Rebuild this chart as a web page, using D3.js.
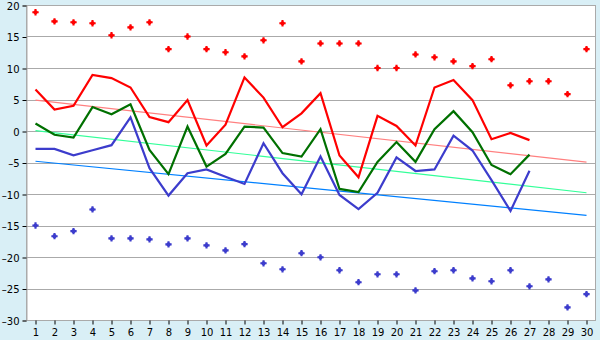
<!DOCTYPE html>
<html>
<head>
<meta charset="utf-8">
<script src="https://cdn.jsdelivr.net/npm/d3@7/dist/d3.min.js"></script>
<style>
  html, body { margin: 0; padding: 0; background: #d9eff6; }
  svg { display: block; }
  text { font-family: "DejaVu Sans", Verdana, sans-serif; font-size: 10px; fill: #000; }
</style>
</head>
<body>
<svg id="chart" width="600" height="340"></svg>
<script>
// Day index along the x axis
const categories = [1,2,3,4,5,6,7,8,9,10,11,12,13,14,15,16,17,18,19,20,21,22,23,24,25,26,27,28,29,30];

// Daily series (days 1–27)
const redSeries = [6.6, 3.4, 4.0, 8.9, 8.4, 6.9, 2.2, 1.4, 4.9, -2.3, 1.0, 8.5, 5.3, 0.6, 2.8, 6.0, -3.9, -7.35, 2.4, 0.8, -2.3, 6.9, 8.1, 4.9, -1.3, -0.3, -1.45];
const greenSeries = [1.2, -0.6, -1.05, 3.8, 2.65, 4.25, -3.0, -6.85, 0.7, -5.65, -3.65, 0.7, 0.55, -3.5, -4.05, 0.3, -9.2, -9.7, -4.9, -1.75, -4.9, 0.3, 3.15, -0.2, -5.4, -6.85, -3.75];
const blueSeries = [-2.85, -2.85, -3.85, -3.05, -2.25, 2.15, -5.9, -10.25, -6.7, -6.1, -7.25, -8.4, -1.95, -6.7, -10.05, -4.05, -10.15, -12.4, -9.8, -4.2, -6.35, -6.1, -0.75, -3.1, -7.8, -12.7, -6.3];

// Extremes (days 1–30)
const redPoints = [18.85, 17.4, 17.25, 17.1, 15.2, 16.45, 17.25, 13.0, 15.0, 13.0, 12.5, 11.85, 14.4, 17.1, 11.05, 13.9, 13.9, 13.9, 10.0, 10.0, 12.15, 11.7, 11.05, 10.3, 11.4, 7.25, 7.9, 7.9, 5.85, 13.0];
const bluePoints = [-15.0, -16.7, -15.9, -12.45, -17.05, -17.05, -17.2, -18.0, -17.05, -18.15, -18.95, -17.95, -21.0, -21.95, -19.4, -20.05, -22.1, -24.0, -22.75, -22.75, -25.3, -22.25, -22.1, -23.4, -23.85, -22.1, -24.65, -23.55, -28.0, -25.9];

// Trend lines, value at first and last day
const trendDays = [1, 30];
const redTrend = [4.9, -4.95];
const greenTrend = [0.05, -9.8];
const blueTrend = [-4.8, -13.4];

// Y axis ticks
const yTicks = [-30, -25, -20, -15, -10, -5, 0, 5, 10, 15, 20];

const svg = d3.select("#chart");
const plotLeft = 26, plotRight = 596, plotTop = 5, plotBottom = 320;

const x = d3.scaleBand().domain(categories).range([plotLeft, plotRight]).padding(0);
const cx = d => x(d) + x.bandwidth() / 2;
const y = d3.scaleLinear().domain([-30, 20]).range([plotBottom, plotTop]);

// Plot background
svg.append("rect")
  .attr("x", plotLeft).attr("y", plotTop)
  .attr("width", plotRight - plotLeft).attr("height", plotBottom - plotTop)
  .attr("fill", "#ffffff");

// Horizontal gridlines
svg.append("g")
  .selectAll("line")
  .data(yTicks)
  .join("line")
  .attr("x1", plotLeft).attr("x2", plotRight)
  .attr("y1", d => Math.round(y(d)) + 0.5).attr("y2", d => Math.round(y(d)) + 0.5)
  .attr("stroke", "#aaaaaa").attr("stroke-width", 1);

// Plot frame
svg.append("rect")
  .attr("x", plotLeft + 0.5).attr("y", plotTop + 0.5)
  .attr("width", plotRight - plotLeft - 1).attr("height", plotBottom - plotTop)
  .attr("fill", "none").attr("stroke", "#aaaaaa");

// Y axis
const yAxis = d3.axisLeft(y).tickValues(yTicks).tickSize(4).tickPadding(3)
  .tickFormat(d => d < 0 ? "\u2013" + Math.abs(d) : String(d));
const gy = svg.append("g").attr("transform", `translate(${plotLeft + 0.5},0.5)`).call(yAxis);
gy.select(".domain").attr("stroke", "#aaaaaa");
gy.selectAll(".tick line").attr("stroke", "#000");
gy.selectAll("text").attr("dy", "0.36em").style("font-size", "10px");

// X axis
const xAxis = d3.axisBottom(x).tickSize(4).tickPadding(4);
const gx = svg.append("g").attr("transform", `translate(0.5,${plotBottom + 0.5})`).call(xAxis);
gx.select(".domain").remove();
gx.selectAll(".tick line").attr("stroke", "#000");
gx.selectAll("text").style("font-size", "10px");

// Trend lines
const trendLine = d3.line().x((d, i) => cx(trendDays[i])).y(d => y(d));
[[redTrend, "#ff8080"], [greenTrend, "#33ff99"], [blueTrend, "#0080ff"]].forEach(([vals, color]) => {
  svg.append("path")
    .attr("d", trendLine(vals))
    .attr("fill", "none")
    .attr("stroke", color)
    .attr("stroke-width", 1.2);
});

// Series lines
const seriesLine = d3.line().x((d, i) => cx(categories[i])).y(d => y(d));
[[greenSeries, "#007000"], [blueSeries, "#3c3ccc"], [redSeries, "#ff0000"]].forEach(([vals, color]) => {
  svg.append("path")
    .attr("d", seriesLine(vals))
    .attr("fill", "none")
    .attr("stroke", color)
    .attr("stroke-width", 2.2)
    .attr("stroke-linejoin", "miter");
});

// Extreme markers: a small cross over a round dot
const crossShape = d3.symbol().type(d3.symbolCross).size(22);
const dotShape = d3.symbol().type(d3.symbolCircle).size(14);
[[redPoints, "#ff0000"], [bluePoints, "#3c3ccc"]].forEach(([vals, color]) => {
  const g = svg.append("g")
    .selectAll("g")
    .data(vals)
    .join("g")
    .attr("transform", (d, i) => `translate(${cx(categories[i])},${y(d)})`)
    .attr("fill", color);
  g.append("path").attr("d", dotShape);
  g.append("path").attr("d", crossShape);
});
</script>
</body>
</html>
